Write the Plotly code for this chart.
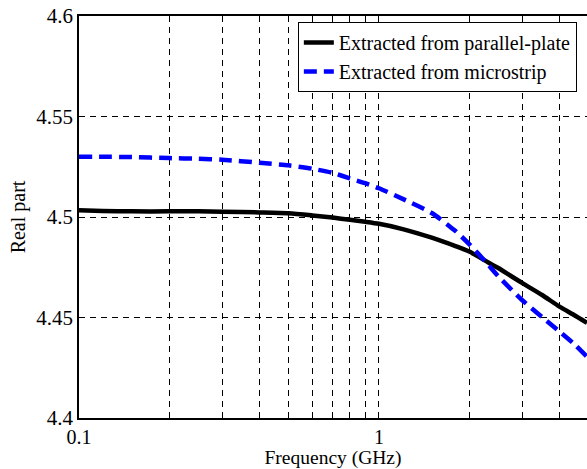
import math
import plotly.graph_objects as go

# ---- data ----
freq_ghz = [0.1, 0.12, 0.15, 0.2, 0.25, 0.3, 0.4, 0.5, 0.6, 0.7, 0.8, 0.9,
            1.0, 1.2, 1.5, 1.8, 2.0, 2.26, 2.5, 3.0, 3.5, 4.0, 4.5, 4.94]
parallel_plate = [4.5033, 4.5030, 4.5028, 4.5028, 4.5028, 4.5026, 4.5023, 4.5019,
                  4.5008, 4.4997, 4.4986, 4.4976, 4.4966, 4.4940, 4.4897, 4.4855,
                  4.4828, 4.4783, 4.4746, 4.4672, 4.4612, 4.4554, 4.4510, 4.4473]
microstrip = [4.5300, 4.5300, 4.5298, 4.5293, 4.5290, 4.5285, 4.5270, 4.5257,
              4.5240, 4.5220, 4.5192, 4.5168, 4.5143, 4.5090, 4.5020, 4.4930,
              4.4865, 4.4780, 4.4705, 4.4587, 4.4502, 4.4430, 4.4365, 4.4305]

x_tickvals = [0.1, 0.2, 0.3, 0.4, 0.5, 0.6, 0.7, 0.8, 0.9, 1, 2, 3, 4, 5, 6, 7, 8, 9, 10]
x_ticktext = ["0.1", "", "", "", "", "", "", "", "", "1", "", "", "", "", "", "", "", "", "10"]
y_tickvals = [4.4, 4.45, 4.5, 4.55, 4.6]
y_ticktext = ["4.4", "4.45", "4.5", "4.55", "4.6"]

FONT = "Liberation Serif"

fig = go.Figure()
fig.add_trace(go.Scatter(
    x=freq_ghz, y=parallel_plate, mode="lines",
    name="Extracted from parallel-plate",
    line=dict(color="black", width=4.5, shape="spline", smoothing=0.6),
))
fig.add_trace(go.Scatter(
    x=freq_ghz, y=microstrip, mode="lines",
    name="Extracted from microstrip",
    line=dict(color="#0000ff", width=4.5, dash="13px,7px", shape="spline", smoothing=0.6),
))

fig.update_layout(
    width=587, height=469,
    margin=dict(l=79, r=0, t=16, b=51),
    paper_bgcolor="white", plot_bgcolor="white",
    font=dict(family=FONT, size=20, color="black"),
    showlegend=True,
    legend=dict(
        x=0.980, y=0.985, xanchor="right", yanchor="top",
        bgcolor="white", bordercolor="black", borderwidth=1,
        font=dict(family=FONT, size=20, color="black"),
        tracegroupgap=0, itemwidth=30,
    ),
)

fig.update_xaxes(
    type="log", range=[math.log10(0.1), math.log10(4.94)],
    tickmode="array", tickvals=x_tickvals, ticktext=x_ticktext,
    ticks="inside", ticklen=5, tickcolor="black", tickwidth=1,
    showline=True, linecolor="black", linewidth=1.5, mirror="ticks",
    showgrid=True, gridcolor="black", gridwidth=1, griddash="6px,5px",
    zeroline=False, automargin=False,
    tickfont=dict(family=FONT, size=20, color="black"),
    title=dict(text="Frequency (GHz)", font=dict(family=FONT, size=19.5, color="black"), standoff=7),
)
fig.update_yaxes(
    range=[4.4, 4.6],
    tickmode="array", tickvals=y_tickvals, ticktext=y_ticktext,
    ticks="inside", ticklen=5, tickcolor="black", tickwidth=1,
    showline=True, linecolor="black", linewidth=1.5, mirror=False,
    showgrid=True, gridcolor="black", gridwidth=1, griddash="6px,5px",
    zeroline=False, automargin=False, ticklabelstandoff=0,
    tickfont=dict(family=FONT, size=21, color="black"),
    title=dict(text="Real part", font=dict(family=FONT, size=20, color="black"), standoff=5),
)

fig.write_html(
    "out.html",
    config={"displayModeBar": False},
    post_script="document.body.style.margin='0';document.body.style.overflow='hidden';",
)
